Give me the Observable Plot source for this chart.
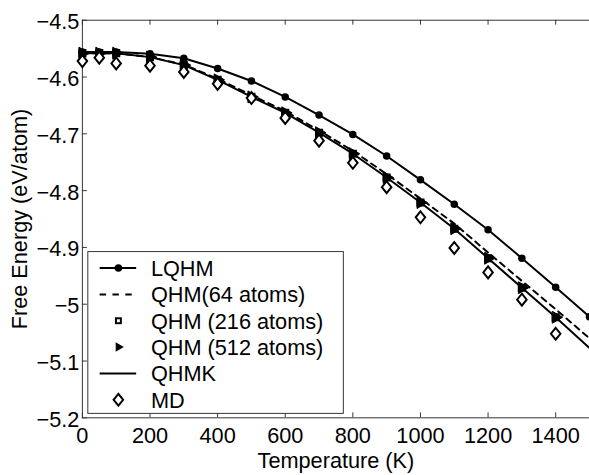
<!DOCTYPE html>
<html>
<head>
<meta charset="utf-8">
<script src="https://cdn.jsdelivr.net/npm/d3@7"></script>
<script src="https://cdn.jsdelivr.net/npm/@observablehq/plot@0.6"></script>
<style>
  html, body { margin: 0; padding: 0; background: #fff; overflow: hidden; }
  #chart { width: 589px; height: 475px; overflow: hidden; }
</style>
</head>
<body>
<div id="chart"></div>
<script>
// ---- data ----
const temps = [0, 50, 100, 200, 300, 400, 500, 600, 700, 800, 900, 1000, 1100, 1200, 1300, 1400, 1500];
const lqhm  = [-4.556, -4.556, -4.556, -4.559, -4.567, -4.585, -4.607, -4.635, -4.667, -4.701, -4.739, -4.781, -4.824, -4.869, -4.919, -4.970, -5.022];
const qhm64 = [-4.558, -4.558, -4.558, -4.565, -4.578, -4.603, -4.632, -4.660, -4.694, -4.730, -4.771, -4.814, -4.858, -4.909, -4.959, -5.009, -5.060];
const qhm216 = [-4.558, -4.558, -4.558, -4.565, -4.579, -4.605, -4.635, -4.663, -4.698, -4.735, -4.777, -4.821, -4.867, -4.919, -4.971, -5.023];
const qhm512 = [-4.558, -4.558, -4.558, -4.565, -4.579, -4.605, -4.635, -4.663, -4.698, -4.735, -4.777, -4.821, -4.867, -4.919, -4.971, -5.023];
const qhmk  = [-4.558, -4.558, -4.558, -4.565, -4.579, -4.605, -4.635, -4.663, -4.698, -4.735, -4.777, -4.821, -4.867, -4.919, -4.971, -5.023, -5.077];
const md    = [-4.572, -4.566, -4.576, -4.580, -4.591, -4.612, -4.637, -4.672, -4.712, -4.751, -4.794, -4.847, -4.901, -4.944, -4.992, -5.052];

const xTicks = [0, 200, 400, 600, 800, 1000, 1200, 1400];
const xTickLabels = ["0", "200", "400", "600", "800", "1000", "1200", "1400"];
const yTicks = [-5.2, -5.1, -5.0, -4.9, -4.8, -4.7, -4.6, -4.5];
const yTickLabels = ["\u22125.2", "\u22125.1", "\u22125", "\u22124.9", "\u22124.8", "\u22124.7", "\u22124.6", "\u22124.5"];

const seriesNames = ["LQHM", "QHM(64 atoms)", "QHM (216 atoms)", "QHM (512 atoms)", "QHMK", "MD"];

// ---- table built from the arrays ----
const rows = temps.map((t, i) => ({
  t, lqhm: lqhm[i], qhm64: qhm64[i], qhm216: qhm216[i], qhm512: qhm512[i], qhmk: qhmk[i], md: md[i]
}));

const xLab = new Map(xTicks.map((v, i) => [v, xTickLabels[i]]));
const yLab = new Map(yTicks.map((v, i) => [v, yTickLabels[i]]));

const W = 597, H = 475, ML = 83, MR = 0, MT = 20, MB = 52;
const PW = W - ML - MR, PH = H - MT - MB;
const FONT = "'Liberation Sans', Arial, Helvetica, sans-serif";
const FS = 22;

// custom hollow diamond symbol
const diamondSym = {
  draw(ctx, size) {
    const h = Math.sqrt(size) * 0.62, w = h * 0.8;
    ctx.moveTo(0, -h); ctx.lineTo(w, 0); ctx.lineTo(0, h); ctx.lineTo(-w, 0); ctx.closePath();
  }
};

const plot = Plot.plot({
  width: W, height: H,
  marginLeft: ML, marginRight: MR, marginTop: MT, marginBottom: MB,
  style: { fontFamily: FONT, fontSize: FS + "px", color: "#000", background: "#fff", overflow: "visible" },
  x: { domain: [0, 1500] },
  y: { domain: [-5.2, -4.5] },
  marks: [
    Plot.frame({ stroke: "#333", strokeWidth: 1 }),
    Plot.tickX(xTicks, { x: d => d, insetTop: PH - 5, stroke: "#333" }),
    Plot.tickX(xTicks, { x: d => d, insetBottom: PH - 5, stroke: "#333" }),
    Plot.tickY(yTicks, { y: d => d, insetRight: PW - 5, stroke: "#333" }),
    Plot.axisX(xTicks, { tickSize: 0, tickPadding: 10, tickFormat: d => xLab.get(d), fontSize: FS,
      label: "Temperature (K)", labelAnchor: "center", labelArrow: "none", labelOffset: 51 }),
    Plot.axisY(yTicks, { tickSize: 0, tickPadding: 3, dy: 2, tickFormat: d => yLab.get(d), fontSize: FS,
      label: "Free Energy (eV/atom)", labelAnchor: "center", labelArrow: "none", labelOffset: 72 }),
    Plot.line(rows, { x: "t", y: "qhm64", stroke: "#000", strokeWidth: 2, strokeDasharray: "6,5" }),
    Plot.line(rows, { x: "t", y: "qhmk", stroke: "#000", strokeWidth: 2 }),
    Plot.line(rows, { x: "t", y: "lqhm", stroke: "#000", strokeWidth: 2 }),
    Plot.dot(rows, { x: "t", y: "lqhm", r: 3.8, fill: "#000", stroke: "none" }),
    Plot.dot(rows, { x: "t", y: "qhm216", symbol: "square", r: 3.5, stroke: "#000", strokeWidth: 2, fill: "none" }),
    Plot.dot(rows, { x: "t", y: "qhm512", symbol: "triangle", rotate: 90, r: 4.5, fill: "#000", stroke: "#000", strokeWidth: 1 }),
    Plot.dot(rows, { x: "t", y: "md", symbol: diamondSym, r: 5.5, stroke: "#000", strokeWidth: 2, fill: "#fff" })
  ]
});

document.getElementById("chart").appendChild(plot);

// ---- legend (drawn inside the SVG) ----
const svg = d3.select(plot);
const lg = svg.append("g").attr("font-family", FONT).attr("font-size", FS).attr("text-anchor", "start");
const bx = 89, by = 255, bw = 259, bh = 164;
lg.append("rect").attr("x", bx).attr("y", by).attr("width", bw).attr("height", bh)
  .attr("fill", "#fff").attr("stroke", "#333").attr("stroke-width", 1);
const rowY = i => 271.7 + i * 26.7;
const sx1 = 101, sx2 = 138, sxc = 120, tx = 153;
seriesNames.forEach((name, i) => {
  const y = rowY(i);
  lg.append("text").attr("x", tx).attr("y", y).attr("dy", "0.36em").attr("text-anchor", "start").attr("fill", "#000").text(name);
});
// LQHM
lg.append("line").attr("x1", sx1).attr("x2", sx2).attr("y1", rowY(0)).attr("y2", rowY(0)).attr("stroke", "#000").attr("stroke-width", 2);
lg.append("circle").attr("cx", sxc).attr("cy", rowY(0)).attr("r", 3.8).attr("fill", "#000");
// QHM64 dashed
lg.append("line").attr("x1", sx1).attr("x2", sx2).attr("y1", rowY(1)).attr("y2", rowY(1)).attr("stroke", "#000").attr("stroke-width", 2).attr("stroke-dasharray", "6.5,6.5");
// QHM216 square
lg.append("rect").attr("x", sxc - 2.5).attr("y", rowY(2) - 2.5).attr("width", 5).attr("height", 5).attr("fill", "none").attr("stroke", "#000").attr("stroke-width", 2);
// QHM512 triangle
lg.append("path").attr("d", d3.symbol(d3.symbolTriangle, 40)()).attr("transform", `translate(${sxc},${rowY(3)}) rotate(90)`).attr("fill", "#000");
// QHMK solid
lg.append("line").attr("x1", sx1).attr("x2", sx2).attr("y1", rowY(4)).attr("y2", rowY(4)).attr("stroke", "#000").attr("stroke-width", 2);
// MD diamond
lg.append("path").attr("d", d3.symbol(diamondSym, 5.5 * 5.5 * Math.PI)()).attr("transform", `translate(${sxc},${rowY(5)})`).attr("fill", "#fff").attr("stroke", "#000").attr("stroke-width", 2);
</script>
</body>
</html>
